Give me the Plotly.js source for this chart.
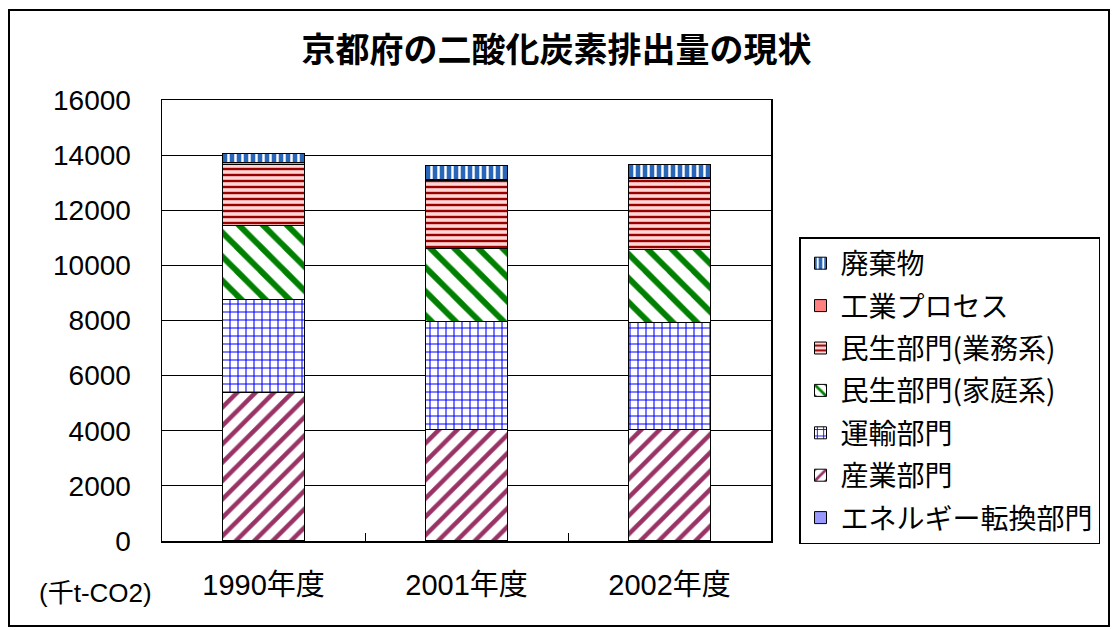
<!DOCTYPE html>
<html>
<head>
<meta charset="utf-8">
<script src="https://cdn.plot.ly/plotly-3.0.1.min.js"></script>
<style>
  html, body { margin: 0; padding: 0; background: #ffffff; }
  #chart { width: 1113px; height: 630px; }
</style>
</head>
<body>
<div id="chart"></div>
<script>
// ---- data (千t-CO2) ----
const years = ["1990年度", "2001年度", "2002年度"];
const energyConversion = [20, 20, 20];        // エネルギー転換部門
const industry = [5350, 4010, 4030];          // 産業部門
const transport = [3375, 3930, 3870];         // 運輸部門
const household = [2720, 2660, 2640];         // 民生部門(家庭系)
const business = [2210, 2450, 2590];          // 民生部門(業務系)
const industrialProcess = [50, 50, 50];       // 工業プロセス
const waste = [340, 520, 450];                // 廃棄物
const yTicks = [0, 2000, 4000, 6000, 8000, 10000, 12000, 14000, 16000];

const seriesNames = ["エネルギー転換部門", "産業部門", "運輸部門", "民生部門(家庭系)", "民生部門(業務系)", "工業プロセス", "廃棄物"];
const seriesValues = [energyConversion, industry, transport, household, business, industrialProcess, waste];
const seriesPatterns = [
  {shape: "", fgcolor: "#9999ff", bgcolor: "#9999ff"},
  {shape: "/", fgcolor: "#993366", bgcolor: "#ffffff", size: 13, solidity: 0.35},
  {shape: "+", fgcolor: "#0000ff", bgcolor: "#ffffff", size: 8, solidity: 0.25},
  {shape: "\\", fgcolor: "#008000", bgcolor: "#ffffff", size: 17, solidity: 0.35},
  {shape: "-", fgcolor: "#990000", bgcolor: "#ffd6d6", size: 6, solidity: 0.4},
  {shape: "", fgcolor: "#ff8080", bgcolor: "#ff8080"},
  {shape: "|", fgcolor: "#ffffff", bgcolor: "#2a66b8", size: 7, solidity: 0.35}
];
const solidColors = ["#9999ff", "#ffffff", "#ffffff", "#ffffff", "#ffd6d6", "#ff8080", "#2a66b8"];

const traces = seriesNames.map((name, i) => {
  const p = seriesPatterns[i];
  const marker = {
    color: solidColors[i],
    line: {color: "#000000", width: 1}
  };
  if (p.shape) {
    marker.pattern = {shape: p.shape, fgcolor: p.fgcolor, bgcolor: p.bgcolor, size: p.size, solidity: p.solidity};
  }
  return {
    type: "bar",
    name: name,
    x: years,
    y: seriesValues[i],
    marker: marker,
    legendgroup: "g" + i,
    legendrank: 100 - i,
    hoverinfo: "name+y"
  };
});

const L = 162, R = 771, T = 100, B = 541, W = 1113, H = 630;
const px2x = v => (v - L) / (R - L);
const px2y = v => (B - v) / (B - T);

const layout = {
  width: W, height: H,
  margin: {l: L, r: W - R, t: T, b: H - B, pad: 0},
  paper_bgcolor: "#ffffff",
  plot_bgcolor: "#ffffff",
  barmode: "stack",
  bargap: 0.6,
  font: {family: "Liberation Sans, Noto Sans CJK JP, sans-serif", color: "#000000"},
  title: {
    text: "<b>京都府の二酸化炭素排出量の現状</b>",
    font: {family: "Noto Sans CJK JP, sans-serif", size: 34, color: "#000000"},
    x: 0.5, xref: "container", xanchor: "center",
    y: 1 - 50 / H, yref: "container", yanchor: "middle"
  },
  xaxis: {
    type: "category",
    showline: true, linecolor: "#000000", linewidth: 1.5, mirror: true,
    ticks: "inside", tickson: "boundaries", ticklen: 8, tickcolor: "#000000",
    tickfont: {family: "Liberation Sans, Noto Sans CJK JP, sans-serif", size: 29, color: "#000000"},
    ticklabelstandoff: 18,
    showgrid: false, fixedrange: true
  },
  yaxis: {
    range: [0, 16000],
    tickvals: yTicks,
    ticktext: yTicks.map(String),
    showline: true, linecolor: "#000000", linewidth: 1.5, mirror: true,
    showgrid: true, gridcolor: "#000000", gridwidth: 1.2,
    zeroline: true, zerolinecolor: "#000000",
    ticks: "",
    tickfont: {family: "Liberation Sans, sans-serif", size: 28, color: "#000000"},
    ticklabelstandoff: 24,
    fixedrange: true
  },
  legend: {
    x: px2x(799), xanchor: "left",
    y: px2y(237), yanchor: "top",
    traceorder: "grouped",
    tracegroupgap: 3,
    bgcolor: "#ffffff",
    bordercolor: "#000000",
    borderwidth: 1.5,
    font: {family: "Noto Sans CJK JP, sans-serif", size: 28, color: "#000000"},
    entrywidth: 260, entrywidthmode: "pixels"
  },
  annotations: [{
    text: "(千t-CO2)",
    xref: "paper", yref: "paper",
    x: px2x(95), y: px2y(593),
    xanchor: "center", yanchor: "middle",
    showarrow: false,
    font: {family: "Liberation Sans, Noto Sans CJK JP, sans-serif", size: 26, color: "#000000"}
  }],
  shapes: [{
    type: "rect", xref: "paper", yref: "paper",
    x0: px2x(9), x1: px2x(1109), y0: px2y(626), y1: px2y(10),
    line: {color: "#000000", width: 2}, fillcolor: "rgba(0,0,0,0)", layer: "below"
  }]
};

Plotly.newPlot("chart", traces, layout, {displayModeBar: false, staticPlot: true});
</script>
</body>
</html>
